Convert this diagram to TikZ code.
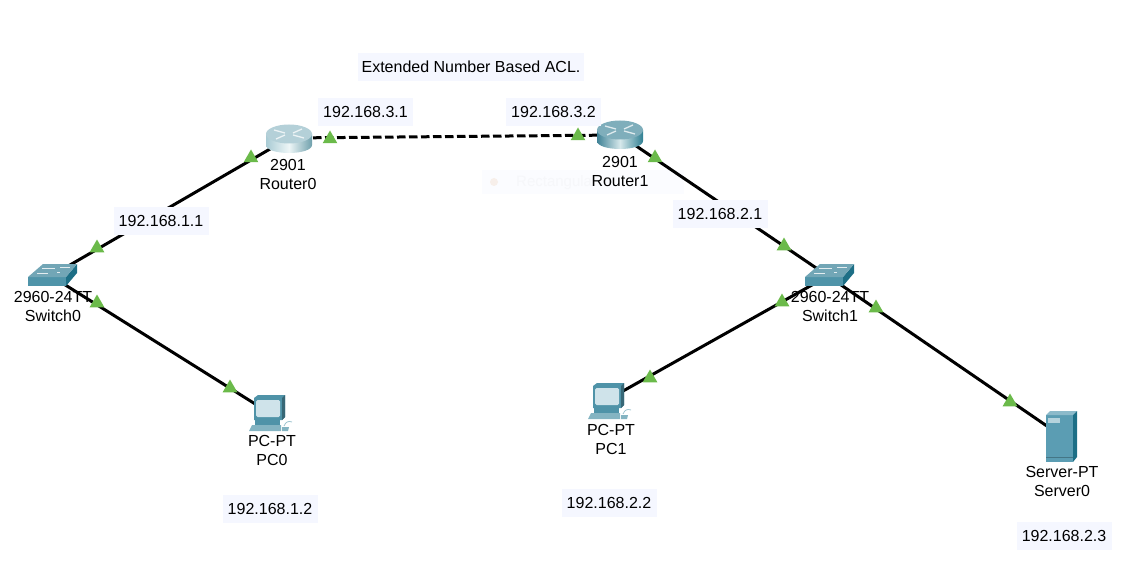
\documentclass[tikz,border=0pt]{standalone}
\usepackage{fontspec}
\setmainfont{Liberation Sans}
\usetikzlibrary{shapes.geometric}
\definecolor{LinkClr}{rgb}{0.42,0.73,0.29}
\definecolor{NoteClr}{rgb}{0.96,0.97,1}
\definecolor{GhostClr}{HTML}{FBFCFF}
\definecolor{GhostTxtClr}{HTML}{F6F7FA}
\definecolor{GhostDotClr}{HTML}{F7EFEA}
\definecolor{SwTopClr}{HTML}{72A6B6}
\definecolor{SwFrontClr}{HTML}{4F94A9}
\definecolor{SwSideClr}{HTML}{1D6F86}
\definecolor{PcClr}{HTML}{4F93A8}
\definecolor{ScreenClr}{HTML}{CFE3EA}
\definecolor{SrvClr}{HTML}{5B9DB3}
\definecolor{RtALeftClr}{HTML}{A9CBD4}
\definecolor{RtAMidClr}{HTML}{EEF6F7}
\definecolor{RtARightClr}{HTML}{6FA0AC}
\definecolor{RtATopClr}{HTML}{B4D0D8}
\definecolor{RtBLeftClr}{HTML}{3F8296}
\definecolor{RtBMidClr}{HTML}{D6E8EB}
\definecolor{RtBRightClr}{HTML}{2F7F92}
\definecolor{RtBTopClr}{HTML}{7FAEBB}
\tikzset{
  wire/.style={line width=3pt,black},
  wirecut/.style={wire,dash pattern=on 8.5pt off 3.5pt},
  linkup/.style={regular polygon,regular polygon sides=3,fill=LinkClr,inner sep=0pt,minimum size=17pt},
  ipnote/.style={fill=NoteClr,font=\fontsize{16}{18}\selectfont,inner sep=0pt,minimum height=28pt,minimum width=95pt},
  devname/.style={font=\fontsize{16}{19}\selectfont,align=center,inner sep=0pt},
  pics/router/.style args={#1/#2/#3/#4}{code={
    \path[left color=#1,right color=#3,middle color=#2] (-23,-5) -- (-23,6) .. controls (-23,11) and (-12,14) .. (0,14) .. controls (12,14) and (23,11) .. (23,6) -- (23,-5) -- cycle;
    \fill[#4] (0,-5) ellipse[x radius=23,y radius=9.5];
    \draw[white!75!#4,line width=1.3pt] (-15,-9) -- (-4,-6) (15,-1) -- (4,-4) (13,-10) -- (4,-6) (-13,0) -- (-4,-4);
  }},
  pics/switchbox/.style={code={
    \fill[SwFrontClr] (-23,1) rectangle (15,10);
    \fill[SwSideClr] (15,1) -- (26,-12) -- (26,-3) -- (15,10) -- cycle;
    \fill[SwTopClr] (-23,1) -- (-8,-12) -- (26,-12) -- (15,1) -- cycle;
    \draw[white!80!SwTopClr,line width=.8pt] (-9,-8) -- (4,-8) (9,-9) -- (19,-9) (-14,-3) -- (-3,-3) (6,-4) -- (9,-4);
  }},
  pics/pcbox/.style={code={
    \fill[PcClr] (-14,-14) -- (-10,-17) -- (17,-17) -- (17,5) -- (14,8) -- (-14,8) -- cycle;
    \fill[PcClr!70!black] (14,-14) -- (17,-17) -- (17,5) -- (14,8) -- cycle;
    \fill[ScreenClr,rounded corners=1.5pt] (-12,-12) rectangle (12,5);
    \fill[PcClr] (-13,8) rectangle (12,13);
    \fill[PcClr!70!white] (-16,13) -- (13,13) -- (13,19) -- (-19,19) -- cycle;
    \fill[PcClr!70!white] (14,15) -- (21,15) -- (20,19) -- (14,19) -- cycle;
    \draw[PcClr!55!white,line width=.8pt] (16,14) .. controls (18,9) and (21,9) .. (24,10);
  }},
  pics/serverbox/.style={code={
    \fill[SrvClr] (-14,-20) rectangle (13,27);
    \fill[SrvClr!70!white] (-14,-20) -- (-10,-24) -- (17,-24) -- (13,-20) -- cycle;
    \fill[SwSideClr] (13,-20) -- (17,-24) -- (17,22) -- (13,27) -- cycle;
    \fill[SrvClr!45!white] (-12,-17) rectangle (0,-12);
    \fill[SrvClr!75!black] (-14,22) rectangle (13,23);
  }}
}

\begin{document}
\begin{tikzpicture}[x=1pt,y=-1pt]
\useasboundingbox (0,0) rectangle (1131,585);

\coordinate (Router0) at (289,138);
\coordinate (Router1) at (620,135);
\coordinate (Switch0) at (51,276);
\coordinate (Switch1) at (828,276);
\coordinate (PC0) at (268,412);
\coordinate (PC1) at (607,400);
\coordinate (Server0) at (1060,435);

\node[fill=GhostClr,minimum width=178pt,minimum height=24pt,inner sep=0pt] (ghost) at (595,182) {};
\node[anchor=west,fill=GhostClr,minimum width=24pt,minimum height=24pt,inner sep=0pt] (ghostbox) at (482,182) {};
\node[circle,fill=GhostDotClr,minimum size=8pt,inner sep=0pt] (ghostdot) at (494,182) {};
\node[anchor=west,text=GhostTxtClr,font=\fontsize{15}{18}\selectfont,inner sep=0pt] (ghosttext) at (516,183) {Rectangular};

\draw[wire] (Router0) -- (Switch0);
\draw[wire] (Switch0) -- (PC0);
\draw[wirecut] (Router0) -- (Router1);
\draw[wire] (Router1) -- (Switch1);
\draw[wire] (Switch1) -- (PC1);
\draw[wire] (Switch1) -- (Server0);

\pic at (289,139) {router={RtALeftClr/RtAMidClr/RtARightClr/RtATopClr}};
\pic at (620,135) {router={RtBLeftClr/RtBMidClr/RtBRightClr/RtBTopClr}};
\pic at (Switch0) {switchbox};
\pic at (Switch1) {switchbox};
\pic at (PC0) {pcbox};
\pic at (PC1) {pcbox};
\pic at (Server0) {serverbox};

\node[linkup] (up1) at (97,248) {};
\node[linkup] (up2) at (97,303) {};
\node[linkup] (up3) at (251,158) {};
\node[linkup] (up4) at (230,388) {};
\node[linkup] (up5) at (330,139) {};
\node[linkup] (up6) at (578,136) {};
\node[linkup] (up7) at (655,158) {};
\node[linkup] (up8) at (784,246) {};
\node[linkup] (up9) at (782,302) {};
\node[linkup] (up10) at (650,378) {};
\node[linkup] (up11) at (876,308) {};
\node[linkup] (up12) at (1010,402) {};

\node[devname] (nameR0) at (288,174.5) {2901\\Router0};
\node[devname] (nameR1) at (620,171.5) {2901\\Router1};
\node[devname] (nameS0) at (53,306.5) {2960-24TT\\Switch0};
\node[devname] (nameS1) at (830,306.5) {2960-24TT\\Switch1};
\node[devname] (namePC0) at (272,450.5) {PC-PT\\PC0};
\node[devname] (namePC1) at (611,439.5) {PC-PT\\PC1};
\node[devname] (nameSrv) at (1062,481.5) {Server-PT\\Server0};

\node[ipnote,minimum width=226pt] (title) at (471,67) {Extended Number Based ACL.};
\node[ipnote] (ip31) at (365.5,112) {192.168.3.1};
\node[ipnote] (ip32) at (553.5,112) {192.168.3.2};
\node[ipnote] (ip11) at (161,221) {192.168.1.1};
\node[ipnote] (ip21) at (720,214) {192.168.2.1};
\node[ipnote] (ip12) at (270,509) {192.168.1.2};
\node[ipnote] (ip22) at (609,503) {192.168.2.2};
\node[ipnote] (ip23) at (1064,536) {192.168.2.3};

\end{tikzpicture}
\end{document}
